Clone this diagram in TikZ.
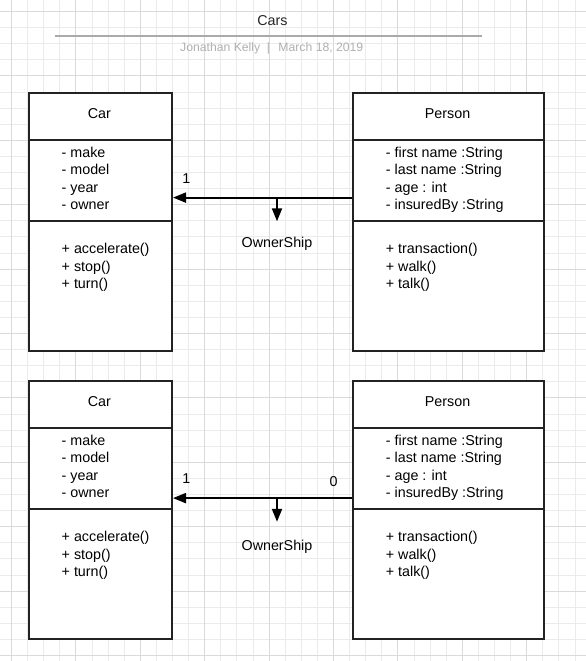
\documentclass[tikz,border=0pt]{standalone}
\usepackage{fontspec}
\setmainfont{Liberation Sans}
\usetikzlibrary{arrows.meta}
\definecolor{gridminor}{HTML}{EBEBEB}
\definecolor{gridmajor}{HTML}{DADADA}
\definecolor{boxline}{HTML}{222222}
\definecolor{titleline}{HTML}{AAAAAA}
\definecolor{subgray}{HTML}{B0B0B0}
\tikzset{
  umlbox/.style={draw=boxline, line width=2pt, fill=white, anchor=north west, inner sep=0pt, minimum height=257.6pt},
  sepline/.style={draw=boxline, line width=2pt},
  txt/.style={font=\fontsize{14.3}{17.5}\selectfont, inner sep=0pt, anchor=base west, text=black},
  ctxt/.style={txt, anchor=base},
  conn/.style={draw=black, line width=2pt, -{Triangle[length=13pt,width=10pt]}},
}
\begin{document}
\begin{tikzpicture}[x=1pt, y=-1pt]
\useasboundingbox (0,0) rectangle (586,661);
\fill[white] (0,0) rectangle (586,661);
% grid
\foreach \k in {0,...,35} \draw[gridminor, line width=1pt] (11.5+16.1*\k,0) -- (11.5+16.1*\k,661);
\foreach \k in {0,...,40} \draw[gridminor, line width=1pt] (0,11.5+16.1*\k) -- (586,11.5+16.1*\k);
\foreach \m in {0,...,8} \draw[gridmajor, line width=1pt] (11.5+64.4*\m,0) -- (11.5+64.4*\m,661);
\foreach \m in {0,...,10} \draw[gridmajor, line width=1pt] (0,11.5+64.4*\m) -- (586,11.5+64.4*\m);
% header
\node[ctxt, font=\fontsize{14.3}{17}\selectfont, text=black!85] (title) at (272.5,25.1) {Cars};
\coordinate (tl1) at (55,36);
\coordinate (tl2) at (482,36);
\draw[titleline, line width=2pt] (tl1) -- (tl2);
\node[txt, font=\fontsize{12.2}{14}\selectfont, text=subgray] (subtitle) at (180,51.7) {Jonathan Kelly\hspace{6.7pt}|\hspace{8.4pt}March 18, 2019};
% two rows of classes
\foreach \dy/\cy/\oy/\n in {0/0/0/1, 288/300.5/303/2} {
  \node[umlbox, minimum width=143.3pt] (car\n) at (27.7,92+\dy) {};
  \node[umlbox, minimum width=190.7pt] (person\n) at (352.3,92+\dy) {};
  \draw[sepline] (car\n.west |- 0,140.3+\dy) -- (car\n.east |- 0,140.3+\dy);
  \draw[sepline] (car\n.west |- 0,220.8+\dy) -- (car\n.east |- 0,220.8+\dy);
  \draw[sepline] (person\n.west |- 0,140.3+\dy) -- (person\n.east |- 0,140.3+\dy);
  \draw[sepline] (person\n.west |- 0,220.8+\dy) -- (person\n.east |- 0,220.8+\dy);
  \node[ctxt] (carname\n) at (99.35,118.6+\dy) {Car};
  \node[ctxt] (personname\n) at (447.6,118.6+\dy) {Person};
  \foreach \t [count=\j] in {- make, - model, - year, - owner}
    \node[txt] (caratt\n\j) at (61.5,157.3+17.5*\j-17.5+\dy) {\t};
  \foreach \t [count=\j] in {+ accelerate(), + stop(), + turn()}
    \node[txt] (carop\n\j) at (61.5,253.6+17.5*\j-17.5+\dy) {\t};
  \foreach \t [count=\j] in {- first name :String, - last name :String, - age : int, - insuredBy :String}
    \node[txt] (personatt\n\j) at (385.7,157.3+17.5*\j-17.5+\dy) {\t};
  \foreach \t [count=\j] in {+ transaction(), + walk(), + talk()}
    \node[txt] (personop\n\j) at (385.7,253.6+17.5*\j-17.5+\dy) {\t};
  % connector
  \coordinate (join\n) at (277,197.6+\cy);
  \coordinate (tip\n) at (277,221.3+\cy);
  \draw[conn] (join\n -| person\n.west) -- (join\n -| car\n.east);
  \draw[conn] (join\n) -- (tip\n);
  \node[ctxt] (own\n) at (277,247.4+\oy) {OwnerShip};
  \node[ctxt] (one\n) at (186.3,183.4+\cy) {1};
}
\node[ctxt] (zero2) at (333.5,486.8) {0};
\end{tikzpicture}
\end{document}
